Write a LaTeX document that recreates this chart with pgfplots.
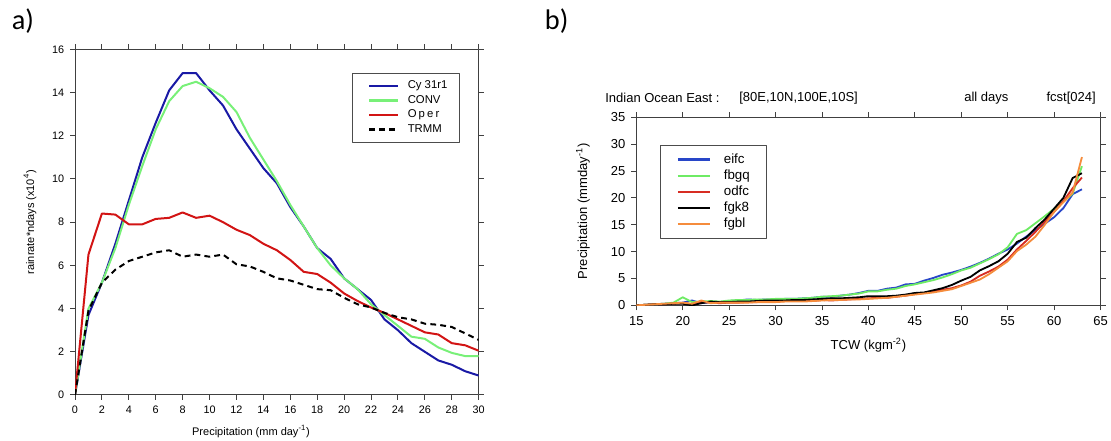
\documentclass[border=0pt]{standalone}
\usepackage{pgfplots}
\usepackage{pgfplotstable}
\pgfplotsset{compat=1.18}
\usepackage{fontspec}
\setmainfont{Liberation Sans}
\newfontfamily\panelfont{Carlito}

\definecolor{cyblue}{RGB}{25,25,165}
\definecolor{convgreen}{RGB}{120,240,120}
\definecolor{operred}{RGB}{210,20,20}
\definecolor{eifcblue}{RGB}{40,70,200}
\definecolor{fbgqgreen}{RGB}{110,235,100}
\definecolor{odfcred}{RGB}{215,45,35}
\definecolor{fgblorange}{RGB}{245,140,60}

% panel a: rainrate*ndays against precipitation
\pgfplotstableread{
x  cy   conv oper trmm
0  0    0    0    0
1  3.7  4.0  6.5  3.9
2  5.2  5.2  8.4  5.2
3  7.0  6.8  8.35 5.8
4  9.0  8.8  7.9  6.2
5  11.0 10.6 7.9  6.4
6  12.6 12.3 8.15 6.6
7  14.1 13.6 8.2  6.7
8  14.9 14.3 8.45 6.4
9  14.9 14.5 8.2  6.5
10 14.1 14.2 8.3  6.4
11 13.4 13.8 8.0  6.5
12 12.3 13.1 7.65 6.05
13 11.4 11.9 7.4  5.95
14 10.5 10.9 7.0  5.7
15 9.8  9.9  6.7  5.4
16 8.7  8.8  6.25 5.3
17 7.8  7.8  5.7  5.1
18 6.8  6.8  5.6  4.9
19 6.3  6.0  5.2  4.85
20 5.4  5.4  4.7  4.5
21 4.9  4.9  4.35 4.2
22 4.4  4.2  4.05 4.05
23 3.5  3.7  3.8  3.8
24 3.0  3.2  3.5  3.6
25 2.4  2.7  3.2  3.5
26 2.0  2.6  2.9  3.3
27 1.6  2.2  2.8  3.25
28 1.4  1.95 2.4  3.15
29 1.1  1.8  2.3  2.85
30 0.9  1.8  2.05 2.55
}\tblA

% panel b: precipitation against TCW
\pgfplotstableread{
x  eifc fbgq odfc fgk8 fgbl
15 0    0    0    0    0
16 0.1  0.1  0.1  0.1  0.1
17 0.2  0.2  0.2  0.2  0.2
18 0.3  0.3  0.2  0.2  0.3
19 0.4  0.5  0.3  0.3  0.4
20 0.5  1.5  0.4  0.3  0.5
21 0.9  0.6  0.2  0.0  0.3
22 0.4  0.7  0.6  0.4  0.9
23 0.6  0.8  0.5  0.7  0.4
24 0.6  0.7  0.4  0.6  0.5
25 0.8  0.9  0.5  0.6  0.5
26 0.9  1.0  0.5  0.7  0.5
27 1.1  1.0  0.6  0.7  0.5
28 1.0  1.1  0.6  0.8  0.6
29 1.1  1.1  0.7  0.9  0.6
30 1.1  1.2  0.7  0.9  0.6
31 1.2  1.2  0.8  0.9  0.7
32 1.2  1.2  0.8  1.0  0.7
33 1.3  1.3  0.8  1.0  0.7
34 1.4  1.4  0.8  1.1  0.8
35 1.6  1.6  1.0  1.2  0.9
36 1.6  1.7  0.9  1.3  1.0
37 1.8  1.8  1.0  1.3  1.0
38 2.0  2.0  1.1  1.4  1.1
39 2.3  2.2  1.2  1.5  1.1
40 2.7  2.6  1.3  1.7  1.2
41 2.7  2.6  1.4  1.7  1.3
42 3.1  2.9  1.4  1.7  1.4
43 3.3  3.1  1.6  1.8  1.6
44 3.9  3.6  1.8  2.0  1.8
45 4.0  3.9  2.1  2.3  2.0
46 4.6  4.3  2.3  2.4  2.2
47 5.1  4.7  2.6  2.8  2.4
48 5.7  5.2  2.9  3.2  2.7
49 6.1  5.8  3.2  3.8  3.0
50 6.6  6.5  3.7  4.6  3.6
51 7.2  7.0  4.4  5.3  4.2
52 7.9  7.8  5.5  6.5  4.8
53 8.7  8.6  6.3  7.3  5.8
54 9.6  9.5  7.2  8.2  7.0
55 10.4 10.8 8.5  9.6  8.2
56 11.5 13.3 10.4 11.8 10.1
57 12.8 14.0 12.0 12.6 11.3
58 14.0 15.3 13.7 14.4 12.8
59 15.2 16.6 15.6 16.0 15.0
60 16.4 18.0 17.4 18.0 17.4
61 18.1 19.3 19.4 20.0 19.2
62 20.7 20.8 21.8 23.7 21.0
63 21.6 25.9 23.8 24.6 27.6
}\tblB

\begin{document}
\begin{tikzpicture}
\path[use as bounding box] (0,0) rectangle (666.6pt,264.6pt);

\pgfplotsset{
  every axis/.append style={
    scale only axis, anchor=south west,
    tick align=outside, major tick length=3pt,
    axis line style={black!75, line width=0.6pt},
    tick style={black!75, line width=0.6pt},
    /pgf/number format/assume math mode=true,
    legend cell align=left,
  },
}

\begin{axis}[
  at={(45pt,27.6pt)}, width=242.2pt, height=207.4pt,
  xmin=0, xmax=30, ymin=0, ymax=16,
  xtick={0,2,...,30}, ytick={0,2,...,16},
  tick label style={font=\fontsize{6.5}{7}\selectfont},
  xlabel={Precipitation (mm day\textsuperscript{-1})},
  ylabel={rainrate*ndays (x10\textsuperscript{4})},
  label style={font=\fontsize{6.6}{7}\selectfont},
  xlabel style={at={(axis description cs:0.436,0)}, anchor=center, yshift=-22pt},
  ylabel style={at={(axis description cs:0,0.5)}, anchor=center, yshift=27pt},
  legend style={at={(0.686,0.932)}, anchor=north west, draw=black!70,
    font=\fontsize{6.8}{7.5}\selectfont, inner xsep=5pt, inner ysep=2.5pt, row sep=-1.5pt},
  legend image code/.code={\path (-4.6pt,0pt); \draw[#1, line width=1.3pt] (0pt,0pt) -- (17pt,0pt); \path (20.5pt,0pt);},
  line join=round,
]
\addplot[cyblue, line width=1.2pt] table[x=x, y=cy] {\tblA};
\addlegendentry{Cy 31r1}
\addplot[convgreen, line width=1.2pt] table[x=x, y=conv] {\tblA};
\addlegendentry{CONV}
\addplot[operred, line width=1.2pt] table[x=x, y=oper] {\tblA};
\addlegendentry{O\hspace{1.3pt}p\hspace{1.3pt}e\hspace{1.3pt}r}
\addplot[black, line width=1.2pt, dash pattern=on 3.5pt off 2.5pt] table[x=x, y=trmm] {\tblA};
\addlegendentry{TRMM}
\end{axis}

\begin{axis}[
  at={(381.8pt,81.4pt)}, width=278.5pt, height=112.8pt,
  xmin=15, xmax=65, ymin=0, ymax=35,
  xtick={15,20,...,65}, ytick={0,5,...,35},
  tick label style={font=\fontsize{7.8}{9}\selectfont},
  xlabel={TCW (kgm\textsuperscript{-2})},
  ylabel={Precipitation (mmday\textsuperscript{-1})},
  label style={font=\fontsize{7.8}{9}\selectfont},
  xlabel style={at={(axis description cs:0.5,0)}, anchor=center, yshift=-24pt},
  ylabel style={at={(axis description cs:0,0.5)}, anchor=center, yshift=32pt},
  legend style={at={(0.051,0.854)}, anchor=north west, draw=black!70,
    font=\fontsize{8}{9}\selectfont, inner xsep=8pt, inner ysep=3pt, row sep=-1.6pt},
  legend image code/.code={\path (-2pt,0pt); \draw[#1, line width=1.3pt] (0pt,0pt) -- (19.5pt,0pt); \path (25pt,0pt);},
  line join=round,
]
\addplot[color=eifcblue, line width=1.1pt] table[x=x, y=eifc] {\tblB};
\addlegendentry{eifc}
\addplot[color=fbgqgreen, line width=1.1pt] table[x=x, y=fbgq] {\tblB};
\addlegendentry{fbgq}
\addplot[color=odfcred, line width=1.1pt] table[x=x, y=odfc] {\tblB};
\addlegendentry{odfc}
\addplot[color=black, line width=1.1pt] table[x=x, y=fgk8] {\tblB};
\addlegendentry{fgk8}
\addplot[color=fgblorange, line width=1.1pt] table[x=x, y=fgbl] {\tblB};
\addlegendentry{fgbl}
\end{axis}

% panel b header line
\node[anchor=west, font=\fontsize{7.8}{9}\selectfont, inner sep=0pt] at (363pt,206pt) {Indian Ocean East :};
\node[anchor=west, font=\fontsize{7.8}{9}\selectfont, inner sep=0pt] at (443.4pt,206pt) {[80E,10N,100E,10S]};
\node[anchor=west, font=\fontsize{7.8}{9}\selectfont, inner sep=0pt] at (578.4pt,206pt) {all days};
\node[anchor=east, font=\fontsize{7.8}{9}\selectfont, inner sep=0pt] at (657.6pt,206pt) {fcst[024]};

% panel letters
\node[font=\panelfont\fontsize{17}{19}\selectfont, inner sep=0pt] at (13.8pt,252pt) {a)};
\node[font=\panelfont\fontsize{17}{19}\selectfont, inner sep=0pt] at (334pt,252pt) {b)};
\end{tikzpicture}
\end{document}
